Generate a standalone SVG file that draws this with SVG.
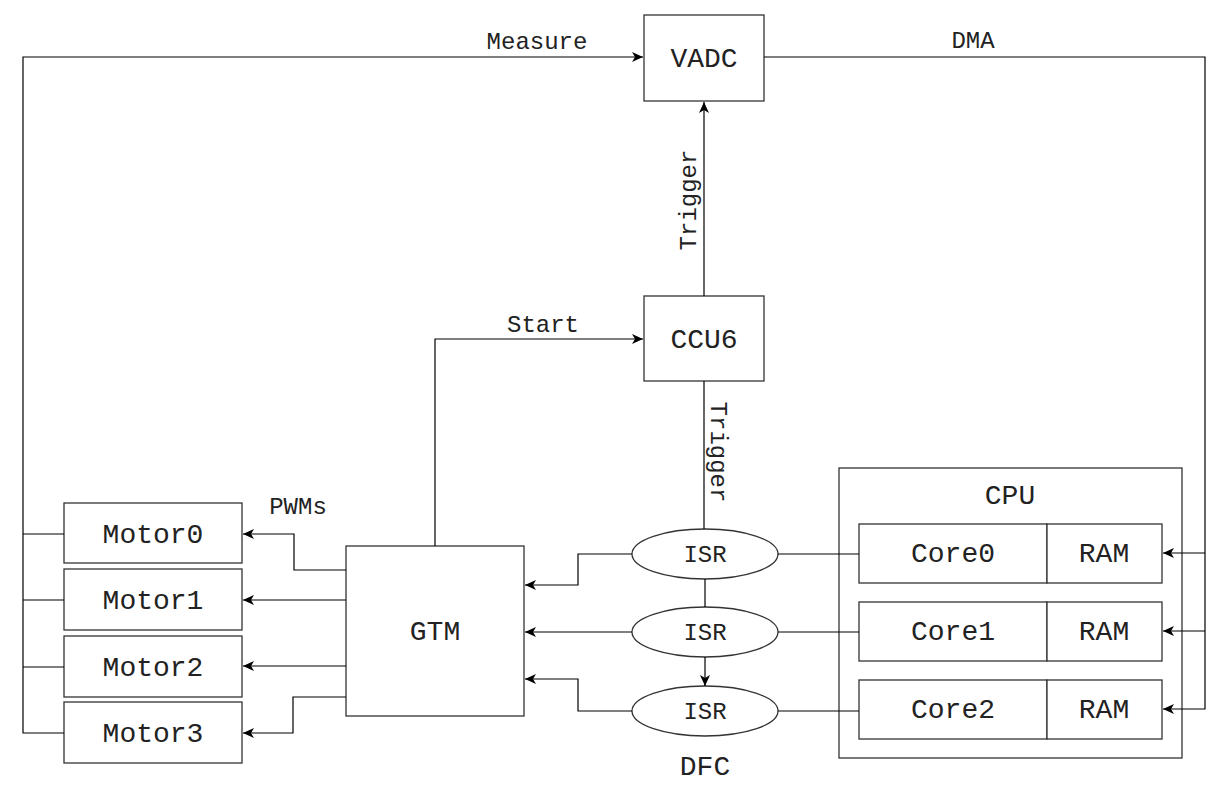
<svg xmlns="http://www.w3.org/2000/svg" width="1222" height="792" viewBox="0 0 1222 792">
<style>
.box{fill:#fff;stroke:#333;stroke-width:1.3}
.ln{fill:none;stroke:#000;stroke-width:1.2}
.big{font-family:"Liberation Mono","Courier New",monospace;font-size:28px;fill:#222;text-anchor:middle}
.sm{font-family:"Liberation Mono","Courier New",monospace;font-size:24px;fill:#222;text-anchor:middle}
</style>
<defs>
<marker id="arr" markerUnits="userSpaceOnUse" markerWidth="12" markerHeight="10" refX="11" refY="5" orient="auto">
<path d="M0,0 L11,5 L0,10 L3,5 Z" fill="#000"/>
</marker>
</defs>
<rect width="1222" height="792" fill="#fff"/>
<g id="VADC"><rect class="box" x="644" y="15" width="120" height="86"/><text class="big" x="704" y="67">VADC</text></g>
<g id="CCU6"><rect class="box" x="644" y="296" width="120" height="85"/><text class="big" x="704" y="348">CCU6</text></g>
<g id="GTM"><rect class="box" x="346" y="546" width="178" height="170"/><text class="big" x="435" y="640">GTM</text></g>
<g id="Motor0"><rect class="box" x="64" y="503" width="178" height="60"/><text class="big" x="153" y="543">Motor0</text></g>
<g id="Motor1"><rect class="box" x="64" y="569" width="178" height="61"/><text class="big" x="153" y="609">Motor1</text></g>
<g id="Motor2"><rect class="box" x="64" y="636" width="178" height="61"/><text class="big" x="153" y="676">Motor2</text></g>
<g id="Motor3"><rect class="box" x="64" y="702" width="178" height="61"/><text class="big" x="153" y="742">Motor3</text></g>
<g id="ISR0"><ellipse class="box" cx="705" cy="554" rx="73" ry="25"/><text class="sm" x="705" y="562">ISR</text></g>
<g id="ISR1"><ellipse class="box" cx="705" cy="632" rx="73" ry="25"/><text class="sm" x="705" y="640">ISR</text></g>
<g id="ISR2"><ellipse class="box" cx="705" cy="711" rx="73" ry="25"/><text class="sm" x="705" y="719">ISR</text></g>
<g id="DFC"><text class="big" x="705" y="775">DFC</text></g>
<g id="CPU">
<rect class="box" x="839" y="468" width="343" height="290"/>
<text class="big" x="1010" y="504">CPU</text>
</g>
<g id="Core0"><rect class="box" x="859" y="524" width="188" height="59"/><text class="big" x="953" y="562">Core0</text></g>
<g id="RAM0"><rect class="box" x="1047" y="524" width="115" height="59"/><text class="big" x="1104" y="562">RAM</text></g>
<g id="Core1"><rect class="box" x="859" y="602" width="188" height="59"/><text class="big" x="953" y="640">Core1</text></g>
<g id="RAM1"><rect class="box" x="1047" y="602" width="115" height="59"/><text class="big" x="1104" y="640">RAM</text></g>
<g id="Core2"><rect class="box" x="859" y="680" width="188" height="59"/><text class="big" x="953" y="718">Core2</text></g>
<g id="RAM2"><rect class="box" x="1047" y="680" width="115" height="59"/><text class="big" x="1104" y="718">RAM</text></g>
<g id="connectors">
<path class="ln" d="M64,733 H23 V57 H643" marker-end="url(#arr)"/>
<path class="ln" d="M23,534 H64 M23,600 H64 M23,667 H64"/>
<path class="ln" d="M764,57 H1205 V709 H1163" marker-end="url(#arr)"/>
<path class="ln" d="M1205,553 H1163" marker-end="url(#arr)"/>
<path class="ln" d="M1205,631 H1163" marker-end="url(#arr)"/>
<path class="ln" d="M704,296 V102" marker-end="url(#arr)"/>
<path class="ln" d="M435,546 V339 H643" marker-end="url(#arr)"/>
<path class="ln" d="M704,381 V529"/>
<path class="ln" d="M705,579 V607"/>
<path class="ln" d="M705,657 V686" marker-end="url(#arr)"/>
<path class="ln" d="M632,554 H578 V585 H525" marker-end="url(#arr)"/>
<path class="ln" d="M632,632 H525" marker-end="url(#arr)"/>
<path class="ln" d="M632,711 H578 V679 H525" marker-end="url(#arr)"/>
<path class="ln" d="M778,554 H859 M778,632 H859 M778,711 H859"/>
<path class="ln" d="M346,570 H294 V534 H243" marker-end="url(#arr)"/>
<path class="ln" d="M346,600 H243" marker-end="url(#arr)"/>
<path class="ln" d="M346,666 H243" marker-end="url(#arr)"/>
<path class="ln" d="M346,697 H293 V733 H243" marker-end="url(#arr)"/>
<text class="sm" x="537" y="49">Measure</text>
<text class="sm" x="973" y="48">DMA</text>
<text class="sm" x="543" y="332">Start</text>
<text class="sm" x="298" y="514">PWMs</text>
<text class="sm" transform="translate(696,200) rotate(-90)">Trigger</text>
<text class="sm" transform="translate(711,452) rotate(90)">Trigger</text>
</g>
</svg>
